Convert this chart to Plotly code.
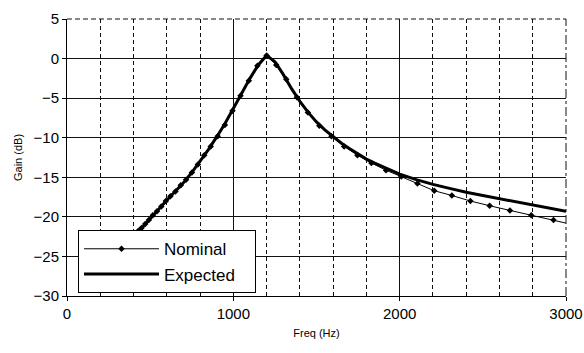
import plotly.graph_objects as go

# Expected response
exp_freq = [250, 300, 350, 400, 450, 500, 550, 600, 650, 700, 750, 800, 850, 900, 950,
            1000, 1050, 1100, 1150, 1200, 1250, 1300, 1350, 1400, 1450, 1500, 1550, 1600,
            1650, 1700, 1750, 1800, 1850, 1900, 1950, 2000, 2100, 2200, 2300, 2400, 2500,
            2600, 2700, 2800, 2900, 3000]
exp_gain = [-27.8, -25.2, -23.8, -22.5, -21.4, -20.2, -19.1, -17.9, -16.8, -15.7, -14.4,
            -13.0, -11.5, -9.9, -8.2, -6.3, -4.4, -2.5, -0.8, 0.4, -0.4, -2.0, -3.8, -5.4,
            -6.8, -8.0, -9.0, -9.9, -10.7, -11.4, -12.1, -12.7, -13.2, -13.7, -14.2, -14.6,
            -15.3, -15.9, -16.4, -16.9, -17.3, -17.7, -18.1, -18.5, -18.9, -19.3]

# Nominal response (measured points)
nom_freq = [281, 294, 308, 323, 338, 355, 372, 389, 408, 428, 448, 470, 492, 516, 541, 567,
            594, 622, 652, 684, 716, 751, 787, 825, 864, 906, 949, 995, 1043, 1093, 1145,
            1200, 1258, 1318, 1382, 1448, 1517, 1590, 1666, 1746, 1830, 1918, 2010, 2107,
            2208, 2314, 2425, 2541, 2663, 2791, 2925, 3065]
nom_gain = [-27.3, -26.7, -26.0, -25.4, -24.8, -24.1, -23.5, -23.0, -22.3, -21.8, -21.4,
            -20.9, -20.4, -19.8, -19.3, -18.7, -18.0, -17.4, -16.8, -16.0, -15.3, -14.4,
            -13.4, -12.2, -11.1, -9.8, -8.4, -6.6, -4.7, -2.8, -0.9, 0.4, -0.8, -2.6, -4.9,
            -6.8, -8.5, -9.8, -11.1, -12.2, -13.2, -14.1, -14.9, -15.8, -16.7, -17.3, -18.0,
            -18.6, -19.2, -19.8, -20.4, -21.1]

x_ticks = [0, 1000, 2000, 3000]
y_ticks = [-30, -25, -20, -15, -10, -5, 0, 5]

FONT = "Liberation Sans, Arial, sans-serif"
GRID = "#111"
PAD = "\u00a0" * 3

fig = go.Figure()
fig.add_trace(go.Scatter(
    x=nom_freq, y=nom_gain, name="Nominal" + PAD, mode="lines+markers",
    line=dict(color="black", width=1),
    marker=dict(symbol="diamond", size=5, color="black"),
))
fig.add_trace(go.Scatter(
    x=exp_freq, y=exp_gain, name="Expected" + PAD, mode="lines",
    line=dict(color="black", width=3),
))

# plot-area border styling: dashed top edge, dash-dot right edge
border_shapes = [
    dict(type="line", xref="paper", yref="paper", x0=0, x1=1, y0=1, y1=1,
         line=dict(color="white", width=2), layer="below"),
    dict(type="line", xref="paper", yref="paper", x0=1, x1=1, y0=0, y1=1,
         line=dict(color="white", width=2), layer="below"),
    dict(type="line", xref="paper", yref="paper", x0=0, x1=1, y0=1, y1=1,
         line=dict(color=GRID, width=1, dash="5px,3px")),
    dict(type="line", xref="paper", yref="paper", x0=1, x1=1, y0=0, y1=1,
         line=dict(color=GRID, width=1, dash="dashdot")),
]

fig.update_layout(
    width=584, height=353,
    margin=dict(l=67, r=18, t=19, b=57, autoexpand=False),
    paper_bgcolor="white", plot_bgcolor="white",
    font=dict(family=FONT, color="black", size=15),
    showlegend=True,
    legend=dict(
        x=0.022, y=0.01, xanchor="left", yanchor="bottom",
        bgcolor="white", bordercolor="black", borderwidth=1,
        font=dict(size=17, family=FONT), itemwidth=75,
        tracegroupgap=0,
    ),
    shapes=border_shapes,
    xaxis=dict(
        range=[0, 3000], tickvals=x_ticks, ticktext=[str(v) for v in x_ticks],
        automargin=False,
        showline=True, linecolor="black", linewidth=1,
        ticks="outside", ticklen=4, tickcolor="black",
        showgrid=True, gridcolor=GRID, gridwidth=1,
        minor=dict(dtick=200, showgrid=True, gridcolor=GRID, griddash="4px,3px", gridwidth=1, ticks=""),
        zeroline=False,
        title=dict(text="Freq (Hz)", font=dict(size=11, family=FONT), standoff=8),
        tickfont=dict(size=15),
    ),
    yaxis=dict(
        range=[-30, 5], tickvals=y_ticks,
        automargin=False,
        showline=True, linecolor="black", linewidth=1,
        ticks="outside", ticklen=4, tickcolor="black",
        showgrid=True, gridcolor=GRID, gridwidth=1,
        zeroline=False,
        title=dict(text="Gain (dB)", font=dict(size=11, family=FONT), standoff=8),
        tickfont=dict(size=15),
    ),
)

fig.write_html("out.html")
